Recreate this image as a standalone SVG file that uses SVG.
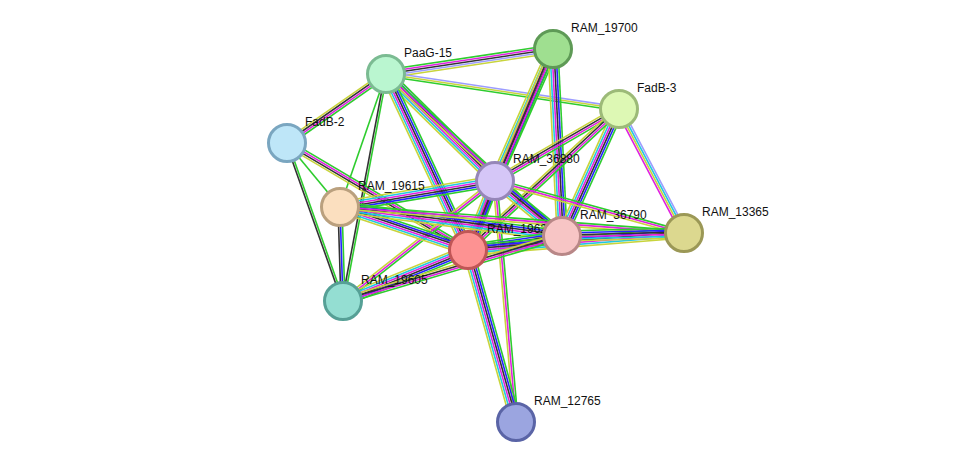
<svg xmlns="http://www.w3.org/2000/svg" xmlns:xlink="http://www.w3.org/1999/xlink" width="975" height="468" viewBox="0 0 975 468">
<style>
line{vector-effect:non-scaling-stroke;stroke-width:1.6}
.g{stroke:#2ecc2e}.b{stroke:#2222ff}.k{stroke:#333}.m{stroke:#e020e0}.y{stroke:#c8d43c}.c{stroke:#22c8e0}.l{stroke:#9c9cff}
circle{stroke-width:3}
text{font-family:"Liberation Sans",Arial,sans-serif;font-size:12px;fill:#111}
</style>
<defs>
<g id="e6"><line class="g" x1="0" y1="-5" x2="1" y2="-5"/><line class="b" x1="0" y1="-3" x2="1" y2="-3"/><line class="k" x1="0" y1="-1" x2="1" y2="-1"/><line class="m" x1="0" y1="1" x2="1" y2="1"/><line class="c" x1="0" y1="3" x2="1" y2="3"/><line class="y" x1="0" y1="5" x2="1" y2="5"/></g>
<g id="e4"><line class="g" x1="0" y1="-3" x2="1" y2="-3"/><line class="m" x1="0" y1="-1" x2="1" y2="-1"/><line class="k" x1="0" y1="1" x2="1" y2="1"/><line class="y" x1="0" y1="3" x2="1" y2="3"/></g>
<g id="e5"><line class="g" x1="0" y1="-4" x2="1" y2="-4"/><line class="m" x1="0" y1="-2" x2="1" y2="-2"/><line class="k" x1="0" y1="0" x2="1" y2="0"/><line class="l" x1="0" y1="2" x2="1" y2="2"/><line class="y" x1="0" y1="4" x2="1" y2="4"/></g>
<g id="e3"><line class="g" x1="0" y1="-2" x2="1" y2="-2"/><line class="m" x1="0" y1="0" x2="1" y2="0"/><line class="y" x1="0" y1="2" x2="1" y2="2"/></g>
<g id="e3b"><line class="g" x1="0" y1="-2" x2="1" y2="-2"/><line class="b" x1="0" y1="0" x2="1" y2="0"/><line class="k" x1="0" y1="2" x2="1" y2="2"/></g>
<g id="e2"><line class="g" x1="0" y1="-1" x2="1" y2="-1"/><line class="k" x1="0" y1="1" x2="1" y2="1"/></g>
<g id="g1"><line class="g" x1="0" y1="0" x2="1" y2="0"/></g>
<g id="ylg"><line class="l" x1="0" y1="-2" x2="1" y2="-2"/><line class="y" x1="0" y1="0" x2="1" y2="0"/><line class="g" x1="0" y1="2" x2="1" y2="2"/></g>
<g id="ylc"><line class="l" x1="0" y1="-3" x2="1" y2="-3"/><line class="c" x1="0" y1="-1" x2="1" y2="-1"/><line class="y" x1="0" y1="1" x2="1" y2="1"/><line class="m" x1="0" y1="3" x2="1" y2="3"/></g>
</defs>
<g id="edges">
<use xlink:href="#e5" transform="translate(386,74) rotate(-8.5) scale(168.9,1)"/>
<use xlink:href="#ylg" transform="translate(386,74) rotate(8.5) scale(235.6,1)"/>
<use xlink:href="#e4" transform="translate(386,74) rotate(145.1) scale(120.7,1)"/>
<use xlink:href="#g1" transform="translate(386,74) rotate(109.1) scale(140.7,1)"/>
<use xlink:href="#e2" transform="translate(386,74) rotate(100.7) scale(231,1)"/>
<use xlink:href="#e6" transform="translate(386,74) rotate(44.5) scale(152.7,1)"/>
<use xlink:href="#e6" transform="translate(386,74) rotate(65) scale(194.2,1)"/>
<use xlink:href="#e3" transform="translate(386,74) rotate(42.6) scale(239.2,1)"/>
<use xlink:href="#e4" transform="translate(287,143) rotate(30.6) scale(210.3,1)"/>
<use xlink:href="#e2" transform="translate(287,143) rotate(70.5) scale(167.6,1)"/>
<use xlink:href="#g1" transform="translate(287,143) rotate(50.4) scale(83.1,1)"/>
<use xlink:href="#e6" transform="translate(553,49) rotate(113.7) scale(144.2,1)"/>
<use xlink:href="#e4" transform="translate(553,49) rotate(113) scale(218.2,1)"/>
<use xlink:href="#e6" transform="translate(553,49) rotate(87.2) scale(187.2,1)"/>
<use xlink:href="#e4" transform="translate(619,109) rotate(149.9) scale(143.4,1)"/>
<use xlink:href="#e6" transform="translate(619,109) rotate(114.2) scale(139.2,1)"/>
<use xlink:href="#ylc" transform="translate(619,109) rotate(62.3) scale(140,1)"/>
<use xlink:href="#e4" transform="translate(619,109) rotate(137) scale(206.6,1)"/>
<use xlink:href="#e6" transform="translate(495,181) rotate(170.5) scale(157.2,1)"/>
<use xlink:href="#e6" transform="translate(495,181) rotate(111.4) scale(74.1,1)"/>
<use xlink:href="#e6" transform="translate(495,181) rotate(39.4) scale(86.7,1)"/>
<use xlink:href="#e3" transform="translate(495,181) rotate(15.4) scale(196,1)"/>
<use xlink:href="#e3" transform="translate(495,181) rotate(141.7) scale(193.7,1)"/>
<use xlink:href="#e3" transform="translate(495,181) rotate(85) scale(241.9,1)"/>
<use xlink:href="#e6" transform="translate(340,207) rotate(18.6) scale(135,1)"/>
<use xlink:href="#e6" transform="translate(340,207) rotate(7.4) scale(223.9,1)"/>
<use xlink:href="#e3b" transform="translate(340,207) rotate(88.2) scale(94,1)"/>
<use xlink:href="#e3" transform="translate(340,207) rotate(4.3) scale(345,1)"/>
<use xlink:href="#e6" transform="translate(468,250) rotate(-8.5) scale(95,1)"/>
<use xlink:href="#e6" transform="translate(468,250) rotate(-4.5) scale(216.7,1)"/>
<use xlink:href="#e6" transform="translate(468,250) rotate(157.8) scale(135,1)"/>
<use xlink:href="#e6" transform="translate(468,250) rotate(74.4) scale(178.6,1)"/>
<use xlink:href="#e6" transform="translate(562,236) rotate(-1.4) scale(122,1)"/>
<use xlink:href="#e4" transform="translate(562,236) rotate(163.5) scale(228.4,1)"/>
</g>
<g id="n19700"><circle cx="553" cy="49" r="18.5" fill="#9fdf90" stroke="#5e9a56"/><text x="571" y="32">RAM_19700</text></g>
<g id="npaag15"><circle cx="386" cy="74" r="18.5" fill="#baf6d0" stroke="#7bbb92"/><text x="404" y="57">PaaG-15</text></g>
<g id="nfadb3"><circle cx="619" cy="109" r="18.5" fill="#ddf8b4" stroke="#9cba78"/><text x="637" y="92">FadB-3</text></g>
<g id="nfadb2"><circle cx="287" cy="143" r="18.5" fill="#bee6f8" stroke="#7aa6c0"/><text x="305" y="126">FadB-2</text></g>
<g id="n36880"><circle cx="495" cy="181" r="18.5" fill="#d5c6f7" stroke="#9686b8"/><text x="513" y="163">RAM_36880</text></g>
<g id="n19615"><circle cx="340" cy="207" r="18.5" fill="#fbdfbf" stroke="#baa07e"/><text x="358" y="190">RAM_19615</text></g>
<g id="n19625"><circle cx="468" cy="250" r="18.5" fill="#fd9292" stroke="#c05656"/><text x="487" y="233">RAM_1962</text></g>
<g id="n36790"><circle cx="562" cy="236" r="18.5" fill="#f7c5c5" stroke="#b88787"/><text x="580" y="219">RAM_36790</text></g>
<g id="n13365"><circle cx="684" cy="233" r="18.5" fill="#dcd88f" stroke="#9b9856"/><text x="702" y="216">RAM_13365</text></g>
<g id="n19605"><circle cx="343" cy="301" r="18.5" fill="#94ded2" stroke="#56a096"/><text x="361" y="284">RAM_19605</text></g>
<g id="n12765"><circle cx="516" cy="422" r="18.5" fill="#9ba5e0" stroke="#5a64a6"/><text x="534" y="405">RAM_12765</text></g>
</svg>
